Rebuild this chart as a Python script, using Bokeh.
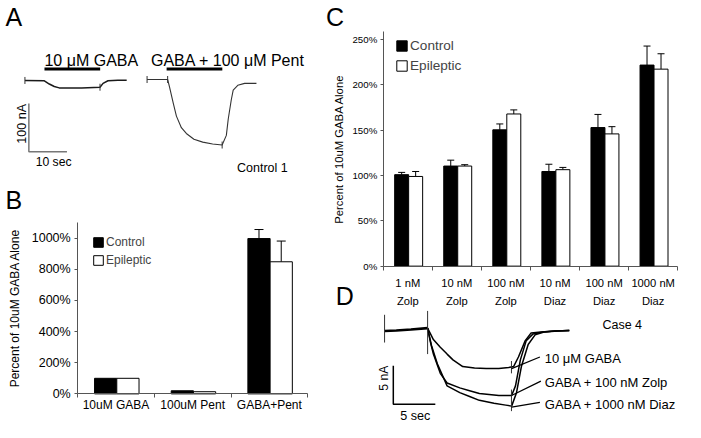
import math
from bokeh.plotting import figure
from bokeh.models import (Range1d, FixedTicker, PrintfTickFormatter, Whisker, TeeHead,
                          ColumnDataSource, Label, Legend, LegendItem, LinearAxis)
from bokeh.embed import file_html
from bokeh.resources import INLINE

FONT = "Liberation Sans"

# ---------------- data ----------------
# Panel A: current traces (time in s from trace start, current in nA from baseline)
a_gaba_t = [0, 5.1, 6.4, 7.7, 9.0, 14.9, 19.7, 20.5, 21.8, 24.4, 26.7]
a_gaba_i = [0, -0.6, -7.4, -12.6, -15.4, -15.4, -14.0, -6.0, -0.6, 0.6, 0.6]
a_gaba_events = [0, 19.7]
a_pent_t = [0, 5.4, 5.9, 6.9, 7.7, 9.0, 10.3, 12.3, 14.6, 17.2, 19.7, 20.8, 21.3, 22.1, 22.6, 23.8, 25.6, 28.7]
a_pent_i = [0, 0, -16, -50, -76, -100, -112, -124, -130, -134, -136, -116, -82, -42, -22, -12, -8, -8]
a_pent_events = [0, 5.4, 19.7]
a_scale_sec = 10
a_scale_na = 100

# Panel B
b_categories = ["10uM GABA", "100uM Pent", "GABA+Pent"]
b_control = [100, 20, 997]
b_control_err = [0, 0, 58]
b_epileptic = [100, 14, 848]
b_epileptic_err = [0, 0, 133]
b_yticks = [0, 200, 400, 600, 800, 1000]

# Panel C
c_categories = ["1 nM\nZolp", "10 nM\nZolp", "100 nM\nZolp", "10 nM\nDiaz", "100 nM\nDiaz", "1000 nM\nDiaz"]
c_control = [101, 110.5, 150.5, 104.5, 153, 222]
c_control_err = [2.5, 6.5, 6.5, 8, 14.5, 21]
c_epileptic = [99, 110.5, 168, 106.5, 146, 217.5]
c_epileptic_err = [5.5, 1.5, 4.5, 2.5, 8, 17]
c_yticks = [0, 50, 100, 150, 200, 250]

# Panel D: traces (time in s from trace start, current in nA from baseline)
d_base_t = [0, 1.4, 3.14, 5.12]
d_base_i = [0, 0.06, 0.19, 0.375]
d_gaba_t = [5.12, 5.81, 6.63, 7.44, 8.14, 9.30, 10.70, 12.09, 13.60, 14.77, 15.35, 15.93, 16.74, 17.44, 18.60, 20.23, 21.98]
d_gaba_i = [0.375, -1.12, -2.12, -3.0, -3.75, -4.62, -4.81, -4.88, -4.88, -4.75, -4.62, -3.38, -1.25, -0.25, -0.12, 0.0, 0.06]
d_zolp_t = [5.12, 5.47, 5.81, 6.63, 7.44, 8.95, 10.12, 11.28, 13.60, 15.12, 15.58, 16.16, 16.86, 17.67, 18.84, 20.23, 21.98]
d_zolp_i = [0.375, -1.5, -3.0, -5.5, -6.75, -7.38, -7.75, -8.12, -8.38, -8.38, -7.12, -3.75, -1.25, -0.38, -0.12, 0.0, 0.06]
d_diaz_t = [5.12, 5.58, 6.28, 7.44, 8.95, 10.12, 11.28, 13.02, 14.42, 15.12, 15.70, 16.28, 17.09, 17.91, 19.07, 20.58, 21.98]
d_diaz_i = [0.375, -1.88, -4.25, -7.12, -8.0, -8.5, -9.0, -9.38, -9.62, -9.75, -8.0, -4.62, -1.75, -0.5, -0.12, 0.0, 0.06]
d_spike_t = [0, 5.12, 15.1, 15.1]
d_spike_hi = [2.1, 2.6, -3.9, -7.6]
d_spike_lo = [-1.5, -3.0, -5.5, -10.4]
d_scale_sec = 5
d_scale_na = 5

# ---------------- figure (page coordinates of the whole figure: 701 x 438) ----------------
W, H = 701, 438
p = figure(width=685, height=422, x_range=Range1d(0, W), y_range=Range1d(H, 0),
           x_axis_type=None, y_axis_type=None, toolbar_location=None,
           output_backend="svg", min_border=0, outline_line_color=None, title=None)
p.xgrid.visible = False
p.ygrid.visible = False

def lin_range(origin_px, px_per_unit, flip=False):
    # range spanning the whole canvas so that value 0 sits at origin_px
    if not flip:
        return Range1d((0 - origin_px) / px_per_unit, (W - origin_px) / px_per_unit)
    return Range1d((origin_px - H) / px_per_unit, (origin_px - 0) / px_per_unit)

# panel A: seconds / nA
p.extra_x_ranges["ax"] = lin_range(0, 3.9)
p.extra_y_ranges["ay"] = lin_range(83, 0.5, flip=True)
# panel D: seconds / nA
p.extra_x_ranges["dx"] = lin_range(330, 8.6)
p.extra_y_ranges["dy"] = lin_range(343, 8.0, flip=True)
# panel B: category units / percent
B_TOP = 1103
p.extra_x_ranges["bx"] = lin_range(79, 78.45)
p.extra_y_ranges["by"] = lin_range(408.3, 0.1617, flip=True)
# panel C: category units / percent
C_TOP = 259.3
p.extra_x_ranges["cx"] = lin_range(391.7, 50.22)
p.extra_y_ranges["cy"] = lin_range(275.7, 0.94, flip=True)

def lab(x, y, text, size, align="left", baseline="middle", angle=0.0):
    p.add_layout(Label(x=x, y=y, text=text, text_font=FONT, text_font_size=f"{size}px",
                       text_align=align, text_baseline=baseline, angle=angle,
                       text_color="black"))

AX = "#555555"

# ---------------- Panel A ----------------
A_G_T0, A_G_I0 = 6.41, 0.0
A_P_T0, A_P_I0 = 38.46, 2.0
kwA = dict(x_range_name="ax", y_range_name="ay")
p.line([A_G_T0 + t for t in a_gaba_t], [A_G_I0 + i for i in a_gaba_i], line_color="#1a1a1a", line_width=1.5, **kwA)
p.line([A_P_T0 + t for t in a_pent_t], [A_P_I0 + i for i in a_pent_i], line_color="#333333", line_width=1.1, **kwA)
ev_x = [A_G_T0 + t for t in a_gaba_events] + [A_P_T0 + t for t in a_pent_events]
ev_y = [A_G_I0 + a_gaba_i[a_gaba_t.index(t)] for t in a_gaba_events] + \
       [A_P_I0 + a_pent_i[a_pent_t.index(t)] for t in a_pent_events]
p.scatter(ev_x, ev_y, marker="dash", angle=math.pi / 2, size=7, line_color="#333333", line_width=1, **kwA)
sb_t, sb_i = 7.44, -48
p.line([sb_t, sb_t, sb_t + a_scale_sec], [sb_i, sb_i - a_scale_na, sb_i - a_scale_na],
       line_color="#777777", line_width=1.5, **kwA)
# drug application bars
p.segment(x0=[45, 170], y0=[71, 71], x1=[102, 227], y1=[71, 71], line_color="black", line_width=3)
lab(5, 17.5, "A", 25)
lab(45, 62, "10 μM GABA", 16)
lab(154, 62, "GABA + 100 μM Pent", 16)
lab(22, 128, "100 nA", 12.5, align="center", angle=math.pi / 2)
lab(36, 168, "10 sec", 12.2)
lab(242, 174, "Control 1", 12.5)

# ---------------- bar panels ----------------
def add_whiskers(xs, vals, errs, head, xr, yr):
    keep = [k for k, e in enumerate(errs) if e > 0]
    src = ColumnDataSource(dict(base=[xs[k] for k in keep],
                                lower=[vals[k] for k in keep],
                                upper=[vals[k] + errs[k] for k in keep]))
    p.add_layout(Whisker(base="base", lower="lower", upper="upper", source=src,
                         x_range_name=xr, y_range_name=yr,
                         line_color="black", line_width=1,
                         upper_head=TeeHead(size=head, line_color="black", line_width=1),
                         lower_head=None))

def bar_axes(xr, yr, ncat, labels, yticks, ytop, tick_size, xlab_size, axlab_size,
             ylab_standoff, axlab_standoff, xlab_standoff):
    ya = LinearAxis(x_range_name=xr, y_range_name=yr, fixed_location=0, bounds=(0, ytop),
                    ticker=FixedTicker(ticks=yticks), formatter=PrintfTickFormatter(format="%d%%"),
                    axis_label="Percent of 10uM GABA Alone")
    ya.major_tick_in = 0
    ya.major_tick_out = 3
    ya.minor_tick_in = 0
    ya.minor_tick_out = 0
    ya.major_label_standoff = ylab_standoff
    ya.axis_label_standoff = axlab_standoff
    ya.major_label_text_font_size = f"{tick_size}px"
    ya.axis_label_text_font_size = f"{axlab_size}px"
    xa = LinearAxis(x_range_name=xr, y_range_name=yr, fixed_location=0, bounds=(0, ncat),
                    ticker=FixedTicker(ticks=[i + 0.5 for i in range(ncat)],
                                       minor_ticks=list(range(ncat + 1))))
    xa.major_label_overrides = {i + 0.5: c for i, c in enumerate(labels)}
    xa.major_tick_in = 0
    xa.major_tick_out = 0
    xa.minor_tick_in = 0
    xa.minor_tick_out = 4
    xa.major_label_standoff = xlab_standoff
    xa.major_label_text_font_size = f"{xlab_size}px"
    for ax in (ya, xa):
        ax.axis_line_color = AX
        ax.major_tick_line_color = AX
        ax.minor_tick_line_color = AX
        ax.major_label_text_font = FONT
        ax.major_label_text_color = "black"
        ax.axis_label_text_font = FONT
        ax.axis_label_text_font_style = "normal"
        ax.axis_label_text_color = "black"
    p.add_layout(ya, "left")
    p.add_layout(xa, "below")
    return xa

def legend(r1, r2, x, y, glyph, spacing, size):
    p.add_layout(Legend(items=[LegendItem(label="Control", renderers=[r1]),
                               LegendItem(label="Epileptic", renderers=[r2])],
                        location=(x, y), orientation="vertical",
                        glyph_width=glyph, glyph_height=glyph, label_height=glyph, label_standoff=2,
                        spacing=spacing, padding=0, margin=0, border_line_alpha=0,
                        background_fill_alpha=0, label_text_font=FONT,
                        label_text_font_size=f"{size}px"))

# ---------------- Panel B ----------------
kwB = dict(x_range_name="bx", y_range_name="by")
bx_c = [i + 0.365 for i in range(len(b_categories))]
bx_e = [i + 0.655 for i in range(len(b_categories))]
rb1 = p.vbar(x=bx_c, top=b_control, width=0.29, bottom=0, fill_color="black", line_color="black", line_width=1, **kwB)
rb2 = p.vbar(x=bx_e, top=b_epileptic, width=0.29, bottom=0, fill_color="white", line_color="black", line_width=1, **kwB)
add_whiskers(bx_c, b_control, b_control_err, 9, "bx", "by")
add_whiskers(bx_e, b_epileptic, b_epileptic_err, 9, "bx", "by")
bar_axes("bx", "by", len(b_categories), b_categories, b_yticks, B_TOP,
         12.5, 12, 12, 4, 7, 0)
legend(rb1, rb2, 92, 155, 12, 4, 12)
lab(5, 207.5, "B", 25)

# ---------------- Panel C ----------------
kwC = dict(x_range_name="cx", y_range_name="cy")
cx_c = [i + 0.375 for i in range(len(c_categories))]
cx_e = [i + 0.66 for i in range(len(c_categories))]
rc1 = p.vbar(x=cx_c, top=c_control, width=0.285, bottom=0, fill_color="black", line_color="black", line_width=1, **kwC)
rc2 = p.vbar(x=cx_e, top=c_epileptic, width=0.285, bottom=0, fill_color="white", line_color="black", line_width=1, **kwC)
add_whiskers(cx_c, c_control, c_control_err, 7, "cx", "cy")
add_whiskers(cx_e, c_epileptic, c_epileptic_err, 7, "cx", "cy")
xc = bar_axes("cx", "cy", len(c_categories), c_categories, c_yticks, C_TOP,
              9.7, 11.2, 11.3, 3, 5, 7)
xc.major_label_text_line_height = 1.5
legend(rc1, rc2, 395, 349, 13, 5, 13.6)
lab(333, 17, "C", 25)
lab(343, 306.5, "D", 25)

# ---------------- Panel D ----------------
kwD = dict(x_range_name="dx", y_range_name="dy")
D_T0 = 7.33
p.line([D_T0 + t for t in d_base_t], d_base_i, line_color="black", line_width=2.6, **kwD)
for tt, ii in ((d_gaba_t, d_gaba_i), (d_zolp_t, d_zolp_i), (d_diaz_t, d_diaz_i)):
    p.line([D_T0 + t for t in tt], ii, line_color="black", line_width=1.5, **kwD)
p.segment(x0=[D_T0 + t for t in d_spike_t], y0=d_spike_lo,
          x1=[D_T0 + t for t in d_spike_t], y1=d_spike_hi, line_color="#333333", line_width=1, **kwD)
ds_t, ds_i = 8.37, -4.5
p.line([ds_t, ds_t, ds_t + d_scale_sec], [ds_i, ds_i - d_scale_na, ds_i - d_scale_na],
       line_color="black", line_width=1.5, **kwD)
# leader lines
p.segment(x0=[552, 553, 552], y0=[370, 395, 417], x1=[523, 523, 523], y1=[382, 410, 422],
          line_color="black", line_width=1.3)
lab(392.5, 392, "5 nA", 12.2, align="center", angle=math.pi / 2)
lab(409, 431.5, "5 sec", 12.6)
lab(616, 336.5, "Case 4", 12.5)
lab(557, 372, "10 μM GABA", 13)
lab(557, 396.5, "GABA + 100 nM Zolp", 13)
lab(557, 419, "GABA + 1000 nM Diaz", 13)

open("out.html", "w").write(file_html(p, INLINE))
